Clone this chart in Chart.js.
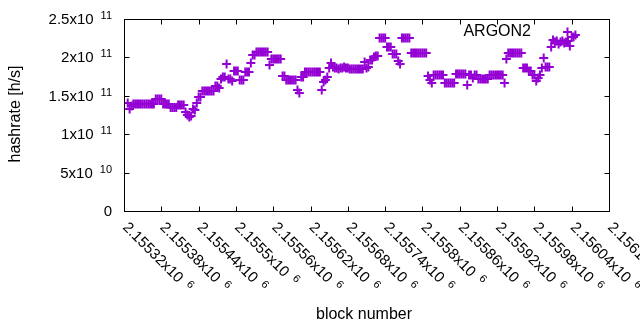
<!DOCTYPE html>
<html lang="en">
<head>
<meta charset="UTF-8">
<title>ARGON2 hashrate</title>
<style>
  html, body { margin: 0; padding: 0; background: #fff; overflow: hidden; }
  #chart { display: block; }
</style>
</head>
<body>
<canvas id="chart" width="640" height="330"></canvas>
<script src="https://cdn.jsdelivr.net/npm/chart.js"></script>
<script>
// one sample every 3 blocks, starting at block 2155326
const seriesName = 'ARGON2';
const firstBlock = 2155326;
const blockStep = 3;

// hashrate in units of 1e9 h/s
const hashrateG = [
  140.6, 132.8, 136.7, 139.3, 139.3, 139.3, 139.3, 139.3, 139.3, 139.3, 139.3, 139.3, 139.3, 139.3, 139.3,
  145.8, 145.8, 145.8, 145.8, 139.3, 139.3, 139.3, 139.3, 134.8, 134.8, 134.8, 134.8, 138.0, 138.0, 138.0, 138.0,
  128.9, 125.0, 122.4, 123.7, 132.8, 131.5, 140.6, 148.4, 148.4,
  156.2, 156.2, 156.2, 156.2, 156.2, 156.2, 156.2, 162.8, 162.8, 160.2, 171.9, 174.5, 174.5,
  191.4, 171.9, 171.9, 169.3, 182.3, 182.3, 182.3, 170.6, 170.6, 170.6, 181.0, 181.0, 181.0, 192.7,
  203.1, 203.1, 207.0, 207.0, 207.0, 207.0, 207.0, 207.0, 207.0, 190.1,
  197.9, 197.9, 197.9, 197.9, 197.9, 197.9, 175.8, 175.8, 170.6, 170.6, 170.6, 170.6, 170.6, 170.6, 157.6, 153.6, 174.5, 174.5,
  181.0, 181.0, 181.0, 181.0, 181.0, 181.0, 181.0, 181.0, 181.0, 157.6, 168.0, 170.6, 174.5, 186.2, 192.7,
  187.5, 186.2, 186.2, 184.9, 186.2, 186.2, 187.5, 186.2, 186.2, 184.9, 184.9, 184.9, 184.9, 184.9, 184.9, 184.9, 184.9,
  194.0, 186.2, 187.5, 196.6, 196.6, 200.5, 201.8, 201.8, 225.3, 225.3, 225.3, 225.3, 213.5, 213.5, 213.5, 204.4, 204.4, 204.4, 195.3, 191.4,
  225.3, 225.3, 225.3, 225.3, 225.3, 205.7, 205.7, 205.7, 205.7, 205.7, 205.7, 205.7, 205.7, 205.7, 175.8, 170.6, 166.7,
  177.1, 177.1, 177.1, 177.1, 177.1, 177.1, 166.7, 166.7, 166.7, 166.7, 166.7, 166.7, 178.4, 178.4, 178.4, 178.4, 178.4, 178.4, 164.1, 177.1, 177.1, 173.2, 177.1, 177.1,
  171.9, 171.9, 171.9, 171.9, 171.9, 171.9, 177.1, 177.1, 177.1, 177.1, 177.1, 177.1, 177.1, 177.1, 166.7, 197.9, 205.7, 205.7, 205.7, 205.7, 205.7, 205.7, 205.7, 205.7,
  186.2, 186.2, 186.2, 182.3, 182.3, 177.1, 177.1, 169.3, 173.2, 177.1, 186.2, 199.2, 187.5, 187.5, 187.5,
  213.5, 222.7, 220.1, 221.4, 217.4, 220.1, 221.4, 218.8, 220.1, 221.4, 214.8, 226.6, 226.6, 229.2
];

const xTicks = [2155320, 2155380, 2155440, 2155500, 2155560, 2155620, 2155680,
                2155740, 2155800, 2155860, 2155920, 2155980, 2156040, 2156100];
const yTicks = [0, 5e10, 1e11, 1.5e11, 2e11, 2.5e11];

const purple = '#9400d3';
const fam = '"Liberation Sans", Arial, sans-serif';
const tickFont = '15px ' + fam;
const supFont = '11px ' + fam;
const textFont = '16px ' + fam;
const supGap = 7;
const supRaise = 5;

const points = hashrateG.map((h, i) => ({ x: firstBlock + i * blockStep, y: h * 1e9 }));

// "2.5x10" + "11"
function sciParts(v) {
  if (v === 0) return ['0', ''];
  const e = Math.floor(Math.log10(v) + 1e-9);
  const m = parseFloat((v / Math.pow(10, e)).toPrecision(6));
  return [m + 'x10', String(e)];
}

function sciWidth(ctx, v) {
  const [b, e] = sciParts(v);
  ctx.font = tickFont;
  let w = ctx.measureText(b).width;
  if (e) {
    ctx.font = supFont;
    w += supGap + ctx.measureText(e).width;
  }
  return w;
}

function drawSci(ctx, v, x, y) {
  const [b, e] = sciParts(v);
  ctx.font = tickFont;
  ctx.fillText(b, x, y);
  if (e) {
    const w = ctx.measureText(b).width;
    ctx.font = supFont;
    ctx.fillText(e, x + w + supGap, y - supRaise);
  }
}

function cross(ctx, x, y, r) {
  ctx.beginPath();
  ctx.moveTo(x - r, y); ctx.lineTo(x + r, y);
  ctx.moveTo(x, y - r); ctx.lineTo(x, y + r);
  ctx.stroke();
}

const gnuplotFrame = {
  id: 'gnuplotFrame',
  afterDraw(chart) {
    const { ctx, chartArea: a, scales: { x, y } } = chart;
    const L = Math.round(a.left) + 0.5, R = Math.round(a.right) + 0.5;
    const T = Math.round(a.top) + 0.5, B = Math.round(a.bottom) + 0.5;
    ctx.save();
    ctx.strokeStyle = '#000';
    ctx.fillStyle = '#000';
    ctx.lineWidth = 1;

    // ticks, mirrored on all sides
    ctx.beginPath();
    yTicks.forEach(v => {
      const py = Math.round(y.getPixelForValue(v)) + 0.5;
      ctx.moveTo(L, py); ctx.lineTo(L + 5, py);
      ctx.moveTo(R, py); ctx.lineTo(R - 5, py);
    });
    xTicks.forEach(v => {
      const px = Math.round(x.getPixelForValue(v)) + 0.5;
      ctx.moveTo(px, B); ctx.lineTo(px, B - 5);
      ctx.moveTo(px, T); ctx.lineTo(px, T + 5);
    });
    ctx.stroke();
    ctx.strokeRect(L, T, R - L, B - T);

    // y labels
    ctx.textAlign = 'left';
    ctx.textBaseline = 'alphabetic';
    yTicks.forEach(v => {
      const py = y.getPixelForValue(v);
      drawSci(ctx, v, 112 - sciWidth(ctx, v), py + 5);
    });

    // x labels, rotated by -45 degrees
    xTicks.forEach(v => {
      const px = x.getPixelForValue(v);
      ctx.save();
      ctx.translate(px - 2, a.bottom + 17);
      ctx.rotate(Math.PI / 4);
      drawSci(ctx, v, 0, 0);
      ctx.restore();
    });

    // axis titles
    ctx.font = textFont;
    ctx.textAlign = 'center';
    ctx.textBaseline = 'middle';
    ctx.fillText('block number', 364, 315);
    ctx.save();
    ctx.translate(16, 114);
    ctx.rotate(-Math.PI / 2);
    ctx.fillText('hashrate [h/s]', 0, 0);
    ctx.restore();

    // key
    ctx.textAlign = 'right';
    ctx.fillText(seriesName, 531, 32);
    ctx.strokeStyle = purple;
    ctx.lineWidth = 2;
    cross(ctx, 567.5, 32, 4.5);
    ctx.restore();
  }
};

new Chart(document.getElementById('chart'), {
  type: 'scatter',
  data: {
    datasets: [{
      label: seriesName,
      data: points,
      pointStyle: 'cross',
      pointRadius: 4.5,
      borderWidth: 2,
      borderColor: purple,
      backgroundColor: purple
    }]
  },
  options: {
    responsive: false,
    animation: false,
    devicePixelRatio: 1,
    events: [],
    layout: { padding: { left: 124, right: 31, top: 19, bottom: 119 } },
    plugins: { legend: { display: false }, tooltip: { enabled: false } },
    scales: {
      x: { type: 'linear', display: false, min: 2155320, max: 2156100 },
      y: { type: 'linear', display: false, min: 0, max: 2.5e11 }
    }
  },
  plugins: [gnuplotFrame]
});
</script>
</body>
</html>
